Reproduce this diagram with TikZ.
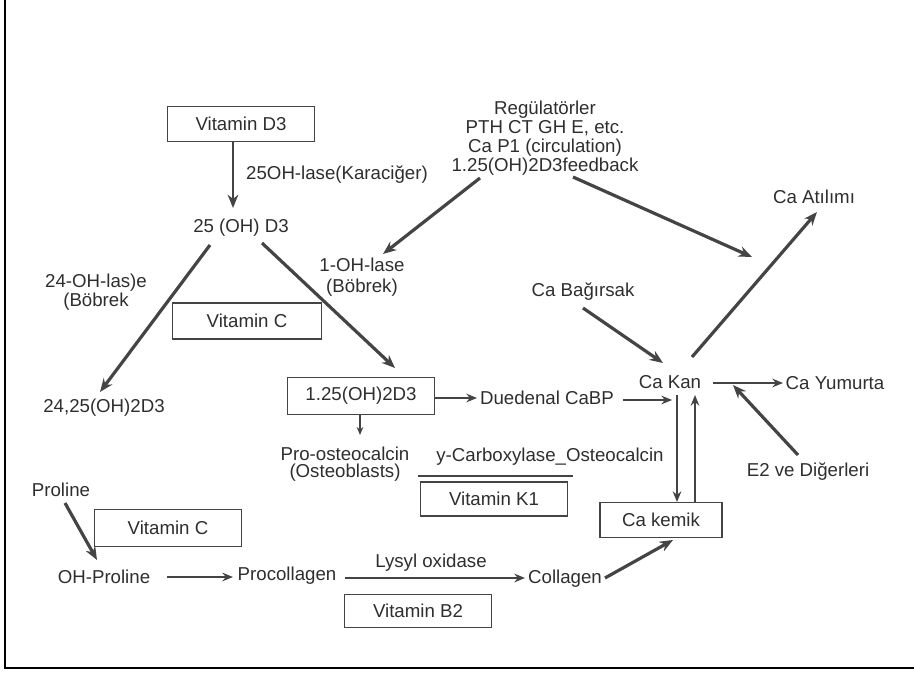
\documentclass[tikz,border=0pt]{standalone}
\usepackage{fontspec}
\setmainfont{Liberation Sans}
\usetikzlibrary{arrows.meta,calc}
\definecolor{ink}{HTML}{2E2E2E}
\definecolor{lin}{HTML}{444444}
\begin{document}
\begin{tikzpicture}[x=0.75pt,y=-0.75pt,
  every node/.style={text=ink,font=\fontsize{14}{15.5}\selectfont},
  txt/.style={inner sep=0pt,align=center},
  box/.style={draw=lin,line width=0.9pt,minimum width=110pt,minimum height=26.5pt,inner sep=0pt},
  big/.style={draw=lin,line width=2.4pt,-{Stealth[length=10pt,width=8pt]}},
  mid/.style={draw=lin,line width=1.6pt,-{Stealth[length=8pt,width=6.5pt]}},
  thin/.style={draw=lin,line width=1.2pt,-{Stealth[length=6pt,width=5pt]}}
]
\useasboundingbox (0,0) rectangle (914,675);
% frame
\draw[black,line width=1.5pt] (5,0) -- (5,668) -- (914,668);

% boxes
\node[box] (vd3) at (241,124) {Vitamin D3};
\node[box,minimum width=112pt,minimum height=27pt] (vc1) at (247,321) {Vitamin C};
\node[box,minimum height=27.5pt] (r125) at (361,396) {1.25(OH)2D3};
\node[box,minimum height=25.5pt] (vk1) at (494,499) {Vitamin K1};
\node[box,minimum height=27.5pt] (vc2) at (168,528) {Vitamin C};
\node[box,minimum height=25pt] (vb2) at (418,611) {Vitamin B2};
\node[box,minimum width=91.5pt] (kemik) at (661,520) {Ca kemik};

% text nodes
\node[txt] (lase25) at (337,175) {25OH-lase(Karaciğer)};
\node[txt] (oh25) at (241,228) {25 (OH) D3};
\node[txt,font=\fontsize{14}{14.3}\selectfont] (reg) at (545,138.5) {Regülatörler\\PTH CT GH E, etc.\\Ca P1 (circulation)\\1.25(OH)2D3feedback};
\node[txt] (ohlase) at (362,277) {1-OH-lase\\(Böbrek)};
\node[txt,font=\fontsize{14}{14.3}\selectfont] (las24) at (96,292) {24-OH-las)e\\(Böbrek};
\node[txt] (d2425) at (104,408) {24,25(OH)2D3};
\node[txt] (duod) at (547,398) {Duedenal CaBP};
\node[txt] (cakan) at (670,382) {Ca Kan};
\node[txt] (yum) at (835,383) {Ca Yumurta};
\node[txt] (e2) at (808,472) {E2 ve Diğerleri};
\node[txt] (carb) at (550,457) {y-Carboxylase\_Osteocalcin};
\node[txt,font=\fontsize{14}{12.8}\selectfont] (proost) at (345,464) {Pro-osteocalcin\\(Osteoblasts)};
\node[txt] (proline) at (61,490) {Proline};
\node[txt] (ohpro) at (104,577) {OH-Proline};
\node[txt] (procol) at (287,576) {Procollagen};
\node[txt] (lysyl) at (431,563) {Lysyl oxidase};
\node[txt] (collagen) at (565,579) {Collagen};
\node[txt] (bagirsak) at (583,292) {Ca Bağırsak};
\node[txt] (atilimi) at (814,197) {Ca Atılımı};
\coordinate (regend) at (752,257);

% connectors
\draw[big,line width=2pt] ($(vd3)+(-8,18)$) -- ($(oh25)+(-8,-20)$);
\draw[big] ($(reg)+(-65,39.5)$) -- ($(ohlase)+(21,-23)$);
\draw[big] ($(reg)+(28,38.5)$) -- (regend);
\draw[big] ($(oh25)+(21,15)$) -- ($(r125)+(34,-28)$);
\draw[big] ($(oh25)+(-31,17)$) -- ($(d2425)+(-4,-16)$);
\draw[thin] ($(r125)+(-1,19)$) -- ($(proost)+(15,-29)$);
\draw[mid] ($(r125)+(74,2)$) -- ($(duod)+(-70,0)$);
\draw[mid] ($(duod)+(76,2)$) -- ($(cakan)+(2,18)$);
\draw[mid] ($(cakan)+(43,1)$) -- ($(yum)+(-52,0)$);
\draw[big] ($(e2)+(-10,-17)$) -- ($(cakan)+(63,3)$);
\draw[mid,line width=2pt] ($(cakan)+(7,13)$) -- ($(kemik)+(16,-18)$);
\draw[mid,line width=2pt] ($(kemik)+(34,-18)$) -- ($(cakan)+(25,13)$);
\draw[big] ($(bagirsak)+(0,16)$) -- ($(cakan)+(-7,-19)$);
\draw[big] ($(cakan)+(22,-25)$) -- ($(atilimi)+(3,15)$);
\draw[big] ($(proline)+(4,13)$) -- ($(ohpro)+(-7,-17)$);
\draw[mid] ($(ohpro)+(63,0)$) -- ($(procol)+(-54,1)$);
\draw[mid] ($(procol)+(58,2)$) -- ($(collagen)+(-40,-1)$);
\draw[big] ($(collagen)+(40,-1)$) -- ($(kemik)+(12,20)$);
\draw[lin,line width=1.6pt] ($(proost)+(73,12)$) -- ($(vk1)+(79,-23)$);
\end{tikzpicture}
\end{document}
